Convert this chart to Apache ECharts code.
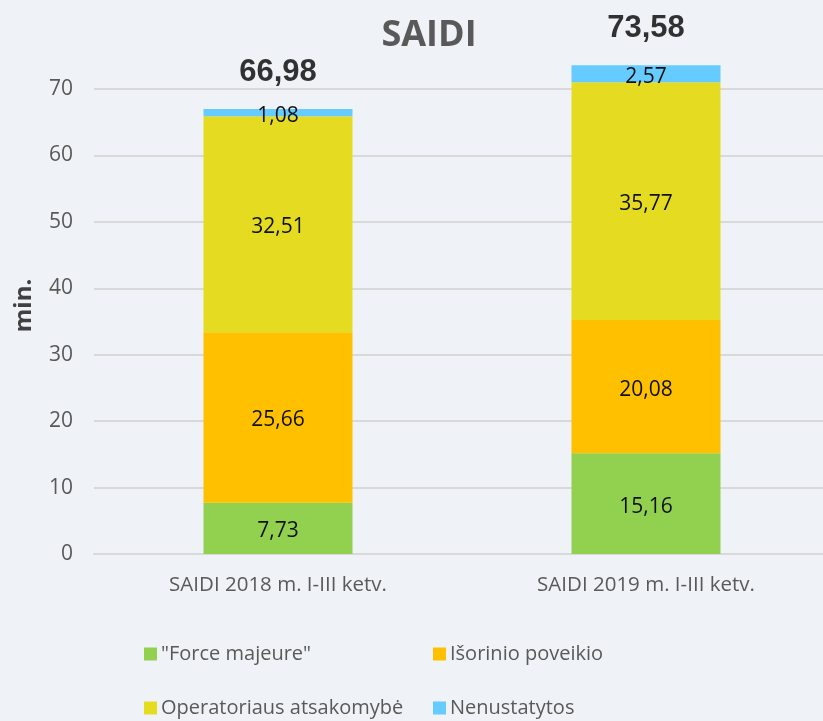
<!DOCTYPE html>
<html>
<head>
<meta charset="utf-8">
<script src="https://cdn.jsdelivr.net/npm/echarts@6/dist/echarts.min.js"></script>
<style>
  html, body { margin: 0; padding: 0; background: #eff3f7; }
  #main { width: 823px; height: 721px; }
</style>
</head>
<body>
<div id="main"></div>
<script>
var categories = ['SAIDI 2018 m. I-III ketv.', 'SAIDI 2019 m. I-III ketv.'];
var forceMajeure = [7.73, 15.16];
var isorinio = [25.66, 20.08];
var operatoriaus = [32.51, 35.77];
var nenustatytos = [1.08, 2.57];
var totals = [66.98, 73.58];
var yTicks = [0, 10, 20, 30, 40, 50, 60, 70];

var FONT = 'Open Sans';
function lt(v) { return String(v.toFixed(2)).replace('.', ','); }

var myChart = echarts.init(document.getElementById('main'));

function barSeries(name, data, color) {
    return {
        name: name,
        type: 'bar',
        stack: 'saidi',
        barWidth: 149,
        clip: false,
        data: data,
        itemStyle: { color: color },
        label: {
            show: true,
            position: 'inside',
            offset: [0, 3],
            color: '#111',
            fontFamily: FONT,
            fontSize: 21,
            formatter: function (p) { return lt(p.value); }
        }
    };
}

var legendStyle = {
    orient: 'vertical',
    top: 644,
    padding: 0,
    itemGap: 34,
    itemWidth: 13,
    itemHeight: 13,
    icon: 'rect',
    textStyle: { fontFamily: FONT, fontSize: 20, lineHeight: 20, color: '#595959', padding: [0, 0, 0, -1] }
};

var option = {
    backgroundColor: '#eff3f7',
    animation: false,
    title: {
        text: 'SAIDI',
        left: 424,
        textAlign: 'center',
        top: 13,
        textStyle: { fontFamily: FONT, fontSize: 36, fontWeight: 'bold', color: '#595959' }
    },
    legend: [
        Object.assign({ data: ['"Force majeure"', 'Operatoriaus atsakomybė'], left: 144 }, legendStyle),
        Object.assign({ data: ['Išorinio poveikio', 'Nenustatytos'], left: 433 }, legendStyle)
    ],
    grid: { left: 94, top: 89, width: 736, height: 465, outerBoundsMode: 'none' },
    xAxis: {
        type: 'category',
        data: categories,
        axisLine: { lineStyle: { color: '#d9d9d9', width: 2 } },
        axisTick: { show: false },
        axisLabel: { fontFamily: FONT, fontSize: 20.5, color: '#595959', margin: 21 }
    },
    yAxis: {
        type: 'value',
        min: 0,
        max: 70,
        interval: 10,
        name: 'min.',
        nameLocation: 'middle',
        nameGap: 58,
        nameTextStyle: { fontFamily: FONT, fontSize: 24, fontWeight: 'bold', color: '#404040', padding: [0, 0, 0, 32] },
        axisLine: { show: false },
        axisTick: { show: false },
        axisLabel: {
            fontFamily: FONT, fontSize: 21, color: '#595959', margin: 21,
            formatter: function (v) { return yTicks.indexOf(v) >= 0 ? String(v) : ''; }
        },
        splitLine: { lineStyle: { color: '#d9d9d9', width: 2 } }
    },
    series: [
        barSeries('"Force majeure"', forceMajeure, '#92d050'),
        barSeries('Išorinio poveikio', isorinio, '#ffc000'),
        barSeries('Operatoriaus atsakomybė', operatoriaus, '#e5dc22'),
        barSeries('Nenustatytos', nenustatytos, '#66ccff'),
        {
            name: 'Iš viso',
            type: 'scatter',
            clip: false,
            symbolSize: 0,
            data: totals,
            label: {
                show: true,
                position: 'top',
                distance: 21,
                color: '#000',
                fontFamily: 'Liberation Sans',
                fontSize: 31,
                fontWeight: 'bold',
                formatter: function (p) { return lt(p.value); }
            }
        }
    ]
};

myChart.setOption(option);
</script>
</body>
</html>
